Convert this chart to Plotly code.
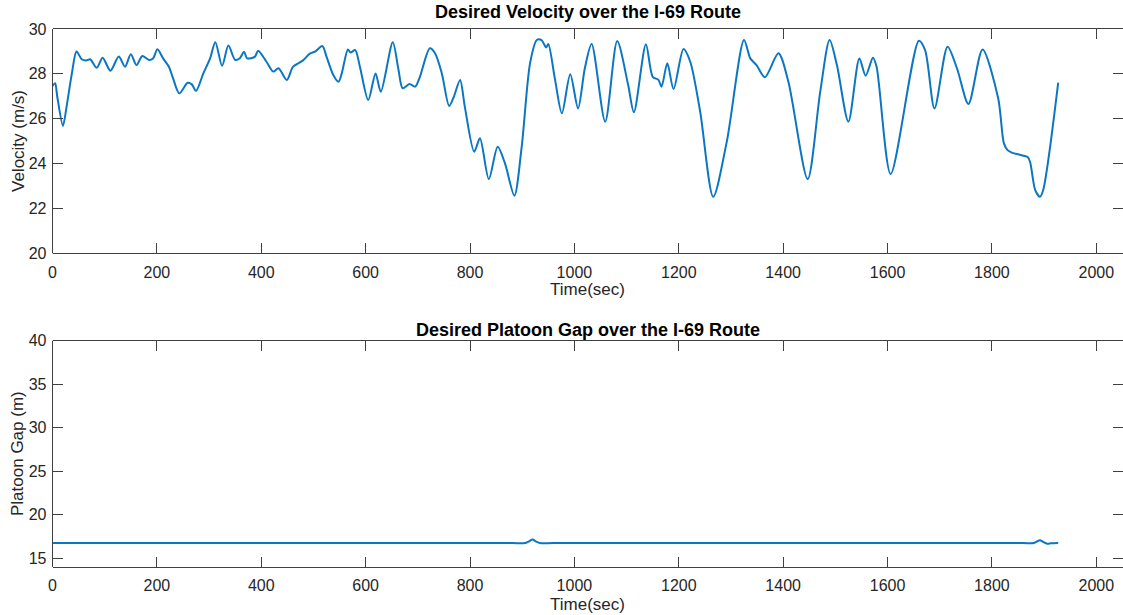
import plotly.graph_objects as go

# Desired velocity profile along the I-69 route
time_v = [0, 5, 9, 20, 27, 37, 46, 56, 65, 72, 85, 96, 111, 127, 139, 150, 161, 172, 185, 193,
          201, 212, 223, 231, 243, 259, 267, 275, 289, 302, 312, 325, 337, 350, 359, 367, 373,
          388, 394, 410, 423, 433, 449, 461, 480, 493, 503, 517, 525, 538, 548, 554, 566, 571,
          580, 589, 605, 619, 629, 652, 663, 671, 684, 695, 704, 723, 733, 746, 760, 769, 781,
          790, 808, 819, 836, 853, 867, 885, 899, 915, 928, 937, 946, 950, 963, 976, 992, 1007,
          1020, 1033, 1059, 1082, 1103, 1114, 1137, 1150, 1161, 1167, 1178, 1190, 1209, 1222,
          1241, 1266, 1292, 1325, 1337, 1349, 1365, 1391, 1410, 1447, 1471, 1489, 1503, 1525,
          1546, 1558, 1572, 1579, 1606, 1660, 1672, 1690, 1715, 1733, 1755, 1782, 1812, 1823,
          1830, 1838, 1863, 1868, 1873, 1883, 1892, 1898, 1927]
velocity = [27.46, 27.58, 27.0, 25.68, 26.54, 28.0, 29.0, 28.65, 28.6, 28.65, 28.27, 28.72, 28.14,
            28.77, 28.32, 28.87, 28.39, 28.80, 28.62, 28.7, 29.1, 28.69, 28.32, 27.8, 27.13,
            27.6, 27.53, 27.24, 28.02, 28.69, 29.41, 28.36, 29.26, 28.62, 28.7, 28.99, 28.69,
            28.77, 29.03, 28.54, 28.10, 28.25, 27.73, 28.32, 28.6, 28.9, 28.99, 29.24, 28.77,
            27.95, 27.65, 28.0, 29.09, 28.95, 29.06, 28.32, 26.83, 28.02, 27.2, 29.41, 28.17,
            27.36, 27.55, 27.43, 27.87, 29.14, 28.92, 28.02, 26.57, 26.98, 27.73, 26.54, 24.53,
            25.13, 23.31, 24.75, 24.01, 22.57, 24.75, 28.47, 29.51, 29.5, 29.18, 29.33, 27.73,
            26.24, 27.98, 26.46, 28.25, 29.33, 25.87, 29.46, 27.5, 26.29, 29.32, 27.87, 27.73,
            27.43, 28.47, 27.32, 29.11, 28.54, 26.31, 22.52, 24.98, 29.51, 28.69, 28.39, 27.85,
            28.92, 27.65, 23.31, 27.2, 29.51, 28.39, 25.87, 28.69, 27.92, 28.72, 28.32, 23.54,
            29.48, 29.06, 26.46, 29.21, 28.25, 26.66, 29.09, 26.91, 24.9, 24.6, 24.49, 24.34,
            24.3, 24.08, 22.82, 22.52, 22.8, 27.61]

# Desired platoon gap along the same route
time_g = [0, 300, 600, 880, 905, 913, 920, 926, 934, 960, 1300, 1600, 1860, 1880, 1886, 1892,
          1899, 1906, 1913, 1927]
gap = [16.75, 16.75, 16.75, 16.75, 16.75, 16.95, 17.15, 16.95, 16.75, 16.75, 16.75, 16.75,
       16.75, 16.75, 16.92, 17.08, 16.85, 16.68, 16.72, 16.75]

x_ticks = [0, 200, 400, 600, 800, 1000, 1200, 1400, 1600, 1800, 2000]
v_ticks = [20, 22, 24, 26, 28, 30]
g_ticks = [15, 20, 25, 30, 35, 40]

W, H = 1123, 615
LINE = "#0b76c2"
AX = "#404040"
TXT = "#262626"
FONT = "Liberation Sans"

x_left = 52.5 / W
top_dom = [1 - 253.3 / H, 1 - 29 / H]
bot_dom = [1 - 567 / H, 1 - 340.7 / H]

fig = go.Figure()
fig.add_trace(go.Scatter(x=time_v, y=velocity, mode="lines",
                         line=dict(color=LINE, width=2, shape="spline", smoothing=0.8),
                         xaxis="x", yaxis="y", showlegend=False))
fig.add_trace(go.Scatter(x=time_g, y=gap, mode="lines",
                         line=dict(color=LINE, width=2, shape="spline", smoothing=0.8),
                         xaxis="x2", yaxis="y2", showlegend=False))

x_span = (W - 52.5) / ((1096.3 - 52.5) / 2000)

xcommon = dict(range=[0, x_span], domain=[x_left, 1], tickvals=x_ticks, automargin=False,
               ticks="inside", ticklen=10, tickcolor=AX, tickwidth=1, ticklabelstandoff=4,
               showline=True, linecolor=AX, linewidth=1, mirror="ticks",
               showgrid=False, zeroline=False,
               tickfont=dict(family=FONT, size=16, color=TXT))
ycommon = dict(ticks="inside", ticklen=10, tickcolor=AX, tickwidth=1, automargin=False,
               ticklabelstandoff=5,
               showline=False, mirror="ticks", showgrid=False, zeroline=False,
               tickfont=dict(family=FONT, size=16, color=TXT))

fig.update_layout(
    width=W, height=H,
    margin=dict(l=0, r=0, t=0, b=0, pad=0, autoexpand=False),
    paper_bgcolor="white", plot_bgcolor="white",
    xaxis=dict(anchor="y", **xcommon),
    yaxis=dict(anchor="x", domain=top_dom, range=[20, 30], tickvals=v_ticks, **ycommon),
    xaxis2=dict(anchor="y2", **xcommon),
    yaxis2=dict(anchor="x2", domain=bot_dom, range=[14, 40], tickvals=g_ticks, **ycommon),
)

# left border of each axes box
for xr, yr in (("x", "y"), ("x2", "y2")):
    fig.add_shape(type="line", xref=f"{xr} domain", yref=f"{yr} domain",
                  x0=0, x1=0, y0=0, y1=1, line=dict(color=AX, width=1), layer="above")

def label(text, x, y, size=17, bold=False, angle=0):
    fig.add_annotation(text=f"<b>{text}</b>" if bold else text, xref="paper", yref="paper",
                       x=x / W, y=1 - y / H, showarrow=False, textangle=angle,
                       xanchor="center", yanchor="middle",
                       font=dict(family=FONT, size=size, color=TXT if not bold else "#000000"))

cx = (52.5 + W) / 2
label("Desired Velocity over the I-69 Route", cx, 12, size=18, bold=True)
label("Desired Platoon Gap over the I-69 Route", cx, 330, size=18, bold=True)
label("Time(sec)", cx, 289)
label("Time(sec)", cx, 604)
label("Velocity (m/s)", 18, 141, angle=-90)
label("Platoon Gap (m)", 18, 454, angle=-90)

fig.write_html("out.html")
